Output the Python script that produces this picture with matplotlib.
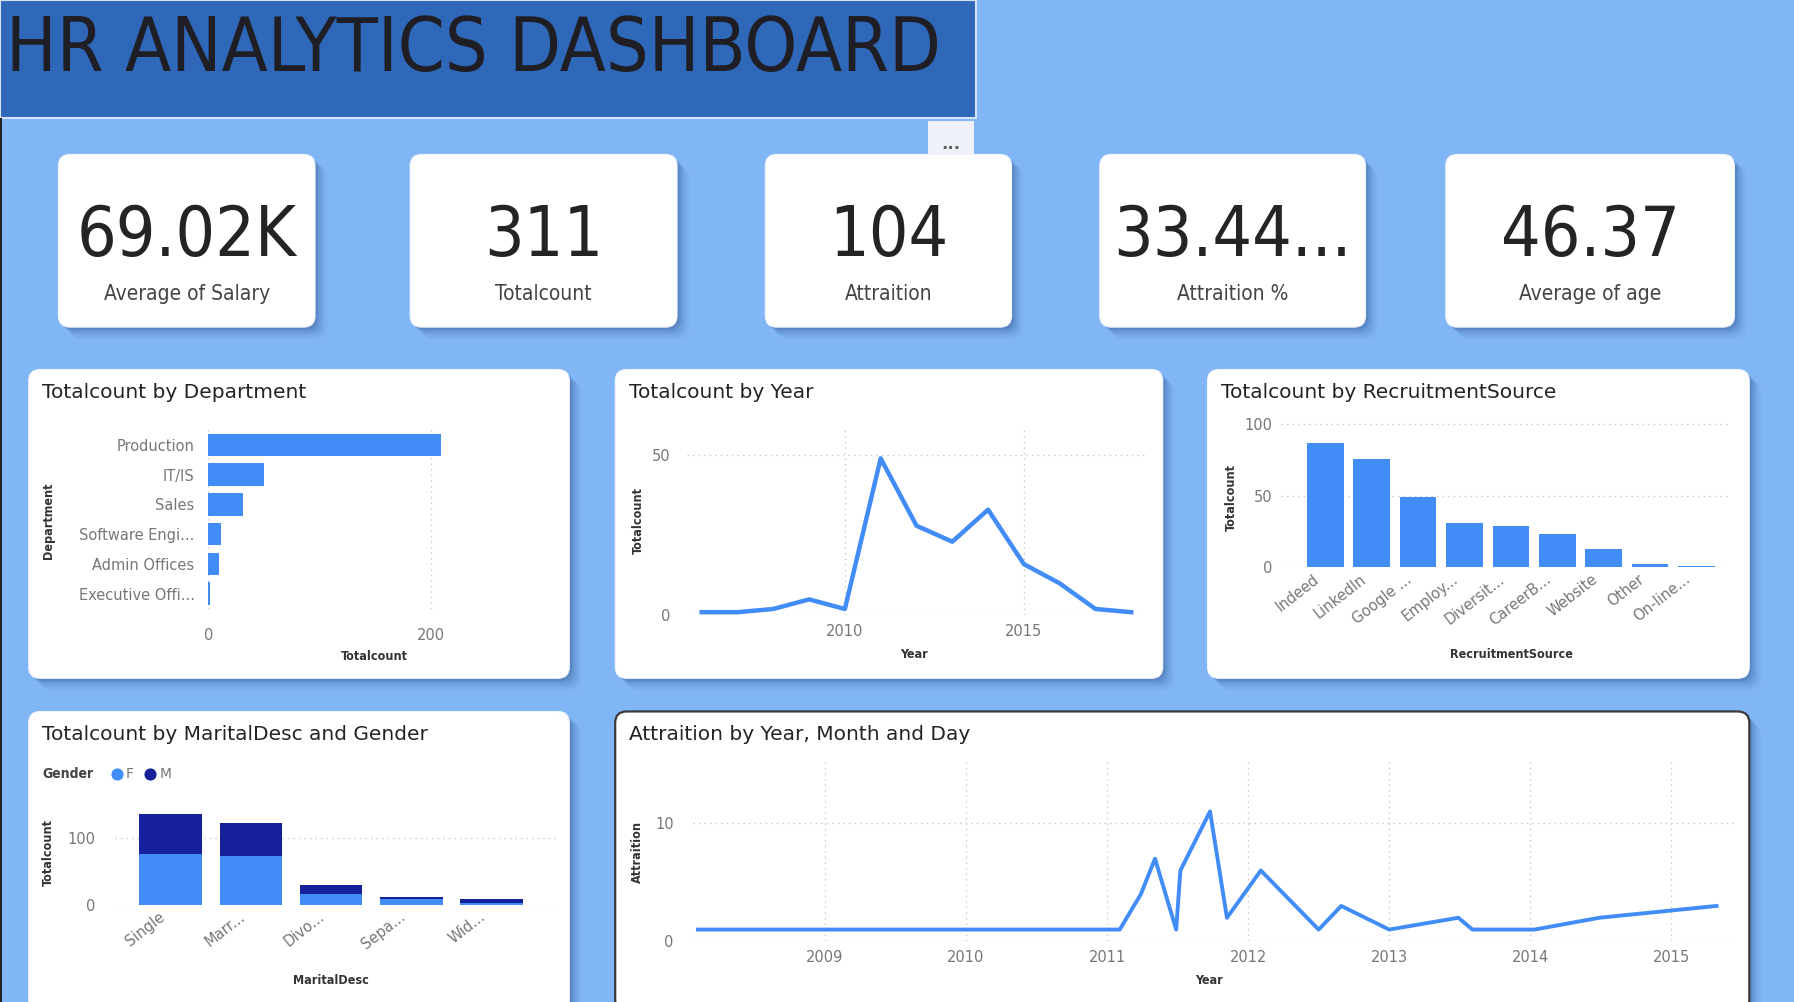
import matplotlib
matplotlib.use("Agg")
import matplotlib.pyplot as plt
from matplotlib.patches import FancyBboxPatch, Rectangle
from matplotlib.transforms import ScaledTranslation
import numpy as np

# ---------------- data ----------------
kpi_values = ["69.02K", "311", "104", "33.44...", "46.37"]
kpi_labels = ["Average of Salary", "Totalcount", "Attraition", "Attraition %", "Average of age"]

departments = ["Production", "IT/IS", "Sales", "Software Engi...", "Admin Offices", "Executive Offi..."]
dept_counts = [209, 50, 31, 11, 9, 1]

hire_years = [2006, 2007, 2008, 2009, 2010, 2011, 2012, 2013, 2014, 2015, 2016, 2017, 2018]
year_counts = [1, 1, 2, 5, 2, 49, 28, 23, 33, 16, 10, 2, 1]

recruit_sources = ["Indeed", "LinkedIn", "Google ...", "Employ...", "Diversit...",
                   "CareerB...", "Website", "Other", "On-line..."]
recruit_counts = [87, 76, 49, 31, 29, 23, 13, 2, 1]

marital = ["Single", "Marr...", "Divo...", "Sepa...", "Wid..."]
marital_f = [76, 73, 16, 8, 3]
marital_m = [61, 51, 14, 4, 5]

attr_dates = [2008.10, 2011.09, 2011.24, 2011.34, 2011.49, 2011.52, 2011.73, 2011.85,
              2012.09, 2012.50, 2012.66, 2013.00, 2013.49, 2013.59, 2014.03, 2014.49, 2015.32]
attr_values = [1, 1, 4, 7, 1, 6, 11, 2, 6, 1, 3, 1, 2, 1, 1, 2, 3]
attr_ticks = [2009, 2010, 2011, 2012, 2013, 2014, 2015]

# ---------------- style ----------------
W, H = 1566.0, 876.0
BG = "#80B5F6"
TITLE_BG = "#2F67B9"
BLUE = "#418CF6"
NAVY = "#15209A"
GRID = "#C8C8C8"
TICK = "#777777"
DARK = "#252423"
COND = dict(family="DejaVu Sans", stretch="condensed")

fig = plt.figure(figsize=(17.94, 10.02), dpi=100)
fig.patch.set_facecolor(BG)

bg = fig.add_axes([0, 0, 1, 1])
bg.set_xlim(0, W)
bg.set_ylim(H, 0)
bg.axis("off")
bg.set_zorder(-1)


def P(x, y, w, h):
    return [x / W, 1 - (y + h) / H, w / W, h / H]


def card(x, y, w, h, r=10, border=None):
    for i, a in enumerate([0.14, 0.11, 0.08, 0.06, 0.04, 0.03]):
        off = 2 + i * 1.7
        bg.add_patch(FancyBboxPatch((x + off, y + off), w, h,
                                    boxstyle=f"round,pad=0,rounding_size={r}",
                                    fc="#1F3F78", ec="none", alpha=a, zorder=1))
    bg.add_patch(FancyBboxPatch((x, y), w, h, boxstyle=f"round,pad=0,rounding_size={r}",
                                fc="white", ec=border if border else "#EEF3FB",
                                lw=1.6 if border else 0.8, zorder=2))


# title banner
bg.add_patch(Rectangle((0, 0), 852, 103, fc=TITLE_BG, ec="#D5E3F7", lw=1.5, zorder=2))
bg.text(5, 44, "HR ANALYTICS DASHBOARD", fontsize=54, color="#1E1E24", va="center",
        ha="left", zorder=3, **COND)
# more-options tab
bg.add_patch(Rectangle((810, 106), 40, 30, fc="#EEF2F8", ec="none", zorder=2))
bg.text(830, 126, "...", fontsize=12, color="#605E5C", ha="center", va="center",
        fontweight="bold", zorder=3)
# left page edge
bg.add_patch(Rectangle((0, 103), 2, H - 103, fc="#222222", ec="none", zorder=2))

# KPI cards
kpi_boxes = [(51, 135, 224, 151), (358, 135, 233, 151), (668, 135, 215, 151),
             (960, 135, 232, 151), (1262, 135, 252, 151)]
for (x, y, w, h), v, lab in zip(kpi_boxes, kpi_values, kpi_labels):
    card(x, y, w, h)
    bg.text(x + w / 2, 207, v, fontsize=50, color=DARK, ha="center", va="center",
            zorder=3, **COND)
    bg.text(x + w / 2, 257, lab, fontsize=15, color="#444444", ha="center", va="center",
            zorder=3, **COND)

# chart panels
panels = {
    "dept": (25, 323, 472, 270, "Totalcount by Department", None),
    "year": (537, 323, 478, 270, "Totalcount by Year", None),
    "rec": (1054, 323, 473, 270, "Totalcount by RecruitmentSource", None),
    "mar": (25, 622, 472, 262, "Totalcount by MaritalDesc and Gender", None),
    "att": (537, 622, 990, 262, "Attraition by Year, Month and Day", "#3A3A3A"),
}
for key, (x, y, w, h, t, b) in panels.items():
    card(x, y, w, h, border=b)
    bg.text(x + 12, y + 20, t, fontsize=14.5, color=DARK, ha="left", va="center",
            zorder=3, family="DejaVu Sans")


def style(ax, xgrid=False, ygrid=False):
    ax.set_facecolor("none")
    for s in ax.spines.values():
        s.set_visible(False)
    ax.tick_params(length=0, colors=TICK, labelsize=10.5)
    if xgrid:
        ax.grid(axis="x", color=GRID, linestyle=(0, (1, 3)), lw=1)
    if ygrid:
        ax.grid(axis="y", color=GRID, linestyle=(0, (1, 3)), lw=1)
    ax.set_axisbelow(True)


def axlabel(x, y, s, rot=0):
    bg.text(x, y, s, fontsize=9, color="#333333", ha="center", va="center",
            rotation=rot, zorder=5, fontweight="bold", **COND)


def shift_labels(ax, dx):
    off = ScaledTranslation(dx / 72, 0, fig.dpi_scale_trans)
    for lab in ax.get_xticklabels():
        lab.set_transform(lab.get_transform() + off)


# --- Department (horizontal bars)
ax = fig.add_axes(P(182, 376, 298, 156))
style(ax, xgrid=True)
ypos = np.arange(len(departments))
ax.barh(ypos, dept_counts, height=0.76, color=BLUE)
ax.set_ylim(len(departments) - 0.5, -0.5)
ax.set_xlim(0, 307)
ax.set_xticks([0, 200])
ax.set_yticks(ypos)
ax.set_yticklabels(departments)
ax.tick_params(axis="y", pad=10)
ax.tick_params(axis="x", pad=14)
axlabel(327, 574, "Totalcount")
axlabel(42, 455, "Department", rot=90)

# --- Totalcount by Year (line)
ax = fig.add_axes(P(600, 375, 400, 163))
style(ax, xgrid=True, ygrid=True)
ax.plot(hire_years, year_counts, color=BLUE, lw=3.2)
ax.set_xlim(2005.6, 2018.4)
ax.set_ylim(0, 58.2)
ax.set_xticks([2010, 2015])
ax.set_yticks([0, 50])
ax.tick_params(axis="y", pad=12)
ax.tick_params(axis="x", pad=6)
axlabel(798, 572, "Year")
axlabel(557, 455, "Totalcount", rot=90)

# --- Recruitment source (vertical bars)
ax = fig.add_axes(P(1118, 366, 392, 130))
style(ax, ygrid=True)
xpos = np.arange(len(recruit_sources))
ax.bar(xpos, recruit_counts, width=0.79, color=BLUE)
ax.set_xlim(-0.96, 8.72)
ax.set_ylim(0, 104)
ax.set_yticks([0, 50, 100])
ax.set_xticks(xpos)
ax.set_xticklabels(recruit_sources, rotation=38, ha="right", va="top",
                   rotation_mode="anchor")
ax.tick_params(axis="x", pad=3)
ax.tick_params(axis="y", pad=6)
shift_labels(ax, -9)
axlabel(1075, 435, "Totalcount", rot=90)
axlabel(1319, 572, "RecruitmentSource")

# --- Marital / gender (stacked bars)
ax = fig.add_axes(P(100, 700, 385, 91))
style(ax, ygrid=True)
mpos = np.arange(len(marital))
ax.bar(mpos, marital_f, width=0.78, color=BLUE, label="F")
ax.bar(mpos, marital_m, width=0.78, bottom=marital_f, color=NAVY, label="M")
ax.set_xlim(-0.7, 4.8)
ax.set_ylim(0, 157)
ax.set_yticks([0, 100])
ax.set_xticks(mpos)
ax.set_xticklabels(marital, rotation=38, ha="right", va="top", rotation_mode="anchor")
ax.tick_params(axis="x", pad=3)
ax.tick_params(axis="y", pad=14)
shift_labels(ax, -9)
axlabel(289, 857, "MaritalDesc")
axlabel(42, 745, "Totalcount", rot=90)
bg.text(37, 677, "Gender", fontsize=10, color="#444444", fontweight="bold",
        ha="left", va="center", zorder=5, **COND)
bg.scatter([102], [677], s=60, color=BLUE, zorder=5)
bg.text(110, 677, "F", fontsize=10, color=TICK, ha="left", va="center", zorder=5)
bg.scatter([131], [677], s=60, color=NAVY, zorder=5)
bg.text(139, 677, "M", fontsize=10, color=TICK, ha="left", va="center", zorder=5)

# --- Attrition by date (line)
ax = fig.add_axes(P(605, 665, 910, 158))
style(ax, xgrid=True, ygrid=True)
ax.plot(attr_dates, attr_values, color=BLUE, lw=2.8)
ax.set_xlim(2008.066, 2015.455)
ax.set_ylim(0, 15.3)
ax.set_xticks(attr_ticks)
ax.set_yticks([0, 10])
ax.tick_params(axis="y", pad=14)
ax.tick_params(axis="x", pad=6)
axlabel(1055, 857, "Year")
axlabel(556, 745, "Attraition", rot=90)

fig.savefig("out.png", dpi=100, facecolor=BG)
